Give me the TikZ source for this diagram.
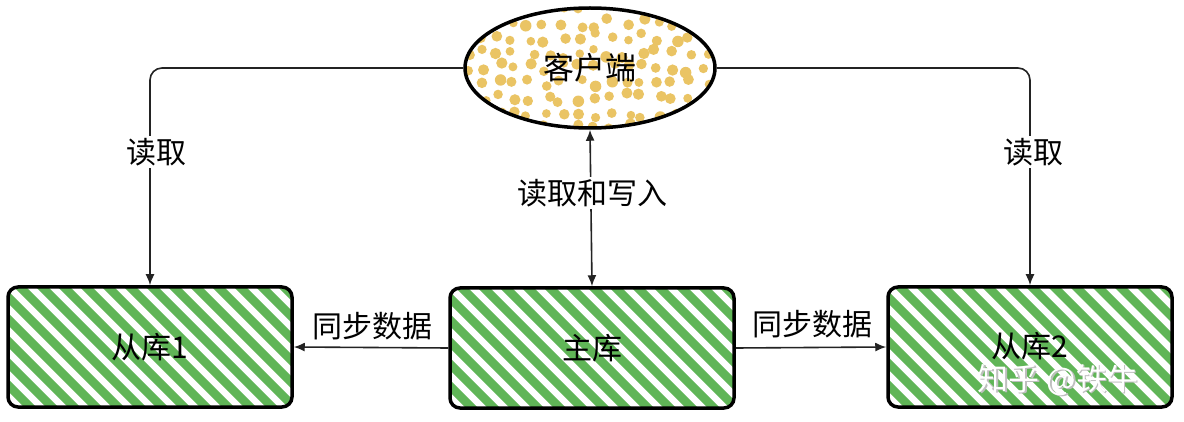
\documentclass[tikz,border=0pt]{standalone}
\usepackage{fontspec}
\setmainfont{Noto Sans CJK SC}
\usetikzlibrary{arrows.meta,shapes.geometric}
\definecolor{hgreen}{RGB}{96,181,87}
\definecolor{dotyel}{RGB}{234,196,100}
\definecolor{conn}{RGB}{35,35,35}
\begin{document}
\begin{tikzpicture}[x=1pt,y=-1pt,
  dbbox/.style={draw=black, line width=3.5pt, rounded corners=10pt, minimum width=284pt, minimum height=120pt, inner sep=0pt, font=\fontsize{30}{32}\selectfont},
  clientnode/.style={draw=black, line width=3.5pt, ellipse, minimum width=250pt, minimum height=120pt, inner sep=0pt, font=\fontsize{31}{33}\selectfont},
  hatch/.style={draw=hgreen, line width=8.5pt, line cap=round},
  link/.style={draw=conn, line width=1.6pt, rounded corners=12pt},
  tip/.style={-{Latex[length=11pt,width=9pt]}},
  lbl/.style={fill=white, inner sep=2pt, font=\fontsize{30}{32}\selectfont, text=black},
  wm/.style={text=white, font=\fontsize{31}{33}\selectfont},
  wmshadow/.style={text=black!25, font=\fontsize{31}{33}\selectfont}]
\useasboundingbox (0,0) rectangle (1184,422);
\fill[white] (0,0) rectangle (1184,422);
% hatch fills
\foreach \xa/\xb/\ya/\yb in {8/293/287/407, 450/735/288/408, 888/1172/287/407}{
  \begin{scope}
    \clip[rounded corners=10pt] (\xa,\ya) rectangle (\xb,\yb);
    \foreach \k in {0,...,19}{
      \draw[hatch] ({\xa-125+\k*22},{\ya-5}) -- ++(135,135);
    }
  \end{scope}
}
% dotted fill of client
\begin{scope}
  \clip (590,68) ellipse [x radius=124pt, y radius=59pt];
  \pgfmathsetseed{7}
  \foreach \i in {0,...,16}{
    \foreach \j in {0,...,8}{
      \pgfmathsetmacro\px{466+\i*16+rand*5}
      \pgfmathsetmacro\py{8+\j*15+rand*5}
      \pgfmathsetmacro\rr{4.2+rnd*1.6}
      \fill[dotyel] (\px,\py) circle[radius=\rr pt];
    }
  }
\end{scope}
% nodes
\node[clientnode] (client) at (590,68) {客户端};
\node[dbbox] (s1) at (150,347) {从库1};
\node[dbbox] (m) at (592,348) {主库};
\node[dbbox] (s2) at (1030,347) {\raisebox{5pt}{从库2}};
% connectors
\draw[link,tip] (client.west) -| (s1.north);
\draw[link,tip] (client.east) -| (s2.north);
\draw[link,{Latex[length=11pt,width=9pt]}-{Latex[length=11pt,width=9pt]}] (client.south) -- (m.north);
\draw[link,tip] (m.west) -- (s1.east);
\draw[link,tip] (m.east) -- (s2.west);
% labels
\node[lbl] (l1) at (156,152) {读取};
\node[lbl] (l2) at (1033,152) {读取};
\node[lbl] (l3) at (592,193) {读取和写入};
\node[lbl] (l4) at (372,326) {同步数据};
\node[lbl] (l5) at (812,324) {同步数据};
% watermark
\node[wmshadow] (wmks) at (1059.2,381.2) {知乎 @铁牛};
\node[wm] (wmk) at (1058,380) {知乎 @铁牛};
\end{tikzpicture}
\end{document}
